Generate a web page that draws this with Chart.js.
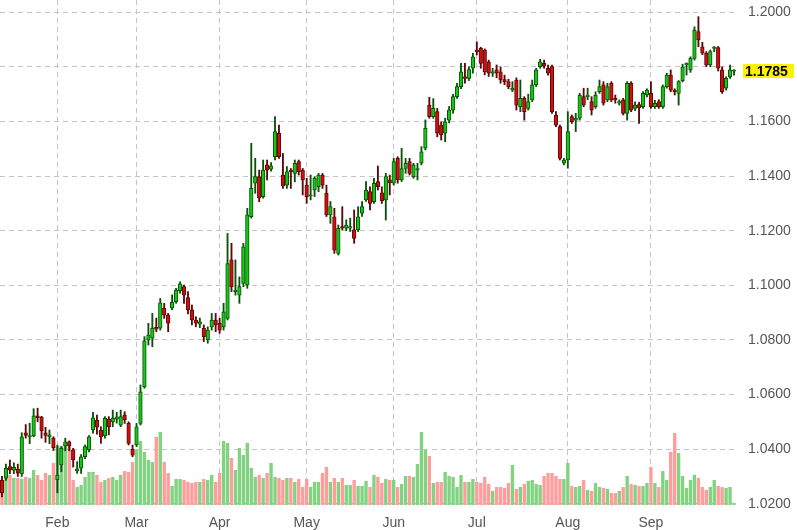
<!DOCTYPE html>
<html>
<head>
<meta charset="utf-8">
<script src="https://cdn.jsdelivr.net/npm/chart.js@4.4.1/dist/chart.umd.min.js"></script>
<style>
  html, body { margin: 0; padding: 0; background: #fff; }
</style>
</head>
<body>
<canvas id="chart" width="797" height="530"></canvas>
<script>
// Daily candles, weekdays 14 Jan - 30 Sep 2025
const firstDay = '2025-01-14';
const lastDay = '2025-09-30';

const tickDates = ['2025-02-03', '2025-03-03', '2025-04-01', '2025-05-01', '2025-06-02', '2025-07-01', '2025-08-01', '2025-09-01'];
const tickLabels = ['Feb', 'Mar', 'Apr', 'May', 'Jun', 'Jul', 'Aug', 'Sep'];
const priceTicks = [1.02, 1.04, 1.06, 1.08, 1.10, 1.12, 1.14, 1.16, 1.18, 1.20];

const opens = [
  1.0287, 1.0294, 1.0336, 1.0323, 1.0327, 1.0309, 1.0460, 1.0445, 1.0449, 1.0522,
  1.0517, 1.0460, 1.0445, 1.0440, 1.0287, 1.0342, 1.0412, 1.0427, 1.0397, 1.0320,
  1.0330, 1.0372, 1.0397, 1.0470, 1.0505, 1.0470, 1.0448, 1.0509, 1.0500, 1.0510,
  1.0488, 1.0525, 1.0494, 1.0399, 1.0415, 1.0494, 1.0628, 1.0800, 1.0806, 1.0846,
  1.0843, 1.0916, 1.0891, 1.0916, 1.0940, 1.0980, 1.0995, 1.0955, 1.0910, 1.0873,
  1.0858, 1.0842, 1.0800, 1.0848, 1.0873, 1.0861, 1.0848, 1.0879, 1.1093, 1.0977,
  1.0964, 1.1007, 1.1001, 1.1251, 1.1374, 1.1398, 1.1325, 1.1441, 1.1425, 1.1471,
  1.1557, 1.1404, 1.1367, 1.1422, 1.1410, 1.1453, 1.1422, 1.1367, 1.1327, 1.1349,
  1.1361, 1.1404, 1.1337, 1.1258, 1.1251, 1.1117, 1.1215, 1.1209, 1.1209, 1.1203,
  1.1203, 1.1264, 1.1313, 1.1343, 1.1306, 1.1380, 1.1339, 1.1313, 1.1386, 1.1374,
  1.1465, 1.1386, 1.1428, 1.1453, 1.1398, 1.1422, 1.1447, 1.1502, 1.1660, 1.1618,
  1.1636, 1.1587, 1.1557, 1.1605, 1.1642, 1.1691, 1.1728, 1.1764, 1.1758, 1.1795,
  1.1862, 1.1868, 1.1862, 1.1819, 1.1777, 1.1789, 1.1782, 1.1754, 1.1746, 1.1715,
  1.1752, 1.1654, 1.1685, 1.1648, 1.1679, 1.1734, 1.1801, 1.1813, 1.1795, 1.1801,
  1.1624, 1.1581, 1.1447, 1.1459, 1.1618, 1.1605, 1.1612, 1.1691, 1.1691, 1.1673,
  1.1654, 1.1709, 1.1734, 1.1679, 1.1740, 1.1685, 1.1667, 1.1679, 1.1630, 1.1740,
  1.1648, 1.1662, 1.1654, 1.1697, 1.1703, 1.1654, 1.1673, 1.1654, 1.1728, 1.1770,
  1.1715, 1.1703, 1.1750, 1.1807, 1.1789, 1.1831, 1.1929, 1.1874, 1.1850, 1.1807,
  1.1868, 1.1871, 1.1789, 1.1722, 1.1764, 1.1784
];
const highs = [
  1.0300, 1.0345, 1.0360, 1.0350, 1.0345, 1.0460, 1.0490, 1.0495, 1.0548, 1.0550,
  1.0520, 1.0480, 1.0470, 1.0445, 1.0415, 1.0409, 1.0440, 1.0430, 1.0403, 1.0354,
  1.0380, 1.0415, 1.0450, 1.0535, 1.0525, 1.0482, 1.0519, 1.0519, 1.0543, 1.0535,
  1.0543, 1.0537, 1.0500, 1.0415, 1.0494, 1.0635, 1.0812, 1.0861, 1.0897, 1.0880,
  1.0952, 1.0934, 1.0897, 1.0965, 1.0989, 1.1013, 1.1001, 1.0977, 1.0928, 1.0885,
  1.0880, 1.0855, 1.0848, 1.0897, 1.0897, 1.0879, 1.0934, 1.1190, 1.1154, 1.1093,
  1.1031, 1.1154, 1.1282, 1.1520, 1.1465, 1.1422, 1.1459, 1.1459, 1.1450, 1.1618,
  1.1587, 1.1483, 1.1435, 1.1428, 1.1459, 1.1459, 1.1428, 1.1392, 1.1404, 1.1398,
  1.1410, 1.1410, 1.1367, 1.1307, 1.1282, 1.1221, 1.1288, 1.1240, 1.1246, 1.1276,
  1.1288, 1.1307, 1.1380, 1.1361, 1.1392, 1.1437, 1.1361, 1.1410, 1.1404, 1.1465,
  1.1471, 1.1502, 1.1465, 1.1465, 1.1447, 1.1447, 1.1508, 1.1606, 1.1689, 1.1684,
  1.1648, 1.1599, 1.1612, 1.1655, 1.1700, 1.1740, 1.1813, 1.1813, 1.1800, 1.1850,
  1.1892, 1.1872, 1.1866, 1.1825, 1.1795, 1.1807, 1.1800, 1.1770, 1.1755, 1.1746,
  1.1760, 1.1752, 1.1691, 1.1700, 1.1752, 1.1795, 1.1828, 1.1825, 1.1807, 1.1807,
  1.1636, 1.1587, 1.1465, 1.1636, 1.1624, 1.1630, 1.1703, 1.1722, 1.1722, 1.1691,
  1.1709, 1.1752, 1.1746, 1.1740, 1.1746, 1.1697, 1.1679, 1.1685, 1.1746, 1.1746,
  1.1672, 1.1670, 1.1710, 1.1720, 1.1746, 1.1678, 1.1680, 1.1734, 1.1777, 1.1789,
  1.1720, 1.1750, 1.1810, 1.1815, 1.1837, 1.1947, 1.1984, 1.1890, 1.1856, 1.1862,
  1.1875, 1.1875, 1.1800, 1.1764, 1.1807, 1.1790
];
const lows = [
  1.0225, 1.0285, 1.0310, 1.0310, 1.0300, 1.0300, 1.0440, 1.0420, 1.0445, 1.0500,
  1.0440, 1.0425, 1.0420, 1.0395, 1.0240, 1.0317, 1.0394, 1.0394, 1.0334, 1.0311,
  1.0311, 1.0365, 1.0390, 1.0458, 1.0455, 1.0421, 1.0440, 1.0452, 1.0482, 1.0495,
  1.0482, 1.0494, 1.0415, 1.0372, 1.0409, 1.0488, 1.0623, 1.0781, 1.0775, 1.0830,
  1.0836, 1.0879, 1.0830, 1.0910, 1.0934, 1.0971, 1.0934, 1.0895, 1.0855, 1.0848,
  1.0845, 1.0794, 1.0788, 1.0836, 1.0830, 1.0824, 1.0836, 1.0873, 1.0977, 1.0964,
  1.0934, 1.0995, 1.0989, 1.1246, 1.1337, 1.1306, 1.1319, 1.1386, 1.1418, 1.1459,
  1.1465, 1.1355, 1.1355, 1.1355, 1.1379, 1.1404, 1.1331, 1.1300, 1.1313, 1.1325,
  1.1343, 1.1355, 1.1252, 1.1227, 1.1117, 1.1111, 1.1203, 1.1200, 1.1197, 1.1154,
  1.1197, 1.1252, 1.1307, 1.1276, 1.1300, 1.1349, 1.1300, 1.1239, 1.1331, 1.1367,
  1.1374, 1.1380, 1.1410, 1.1404, 1.1392, 1.1386, 1.1441, 1.1496, 1.1612, 1.1612,
  1.1544, 1.1532, 1.1526, 1.1595, 1.1630, 1.1685, 1.1720, 1.1740, 1.1750, 1.1777,
  1.1844, 1.1795, 1.1771, 1.1765, 1.1765, 1.1760, 1.1740, 1.1735, 1.1720, 1.1710,
  1.1642, 1.1636, 1.1605, 1.1642, 1.1673, 1.1728, 1.1795, 1.1795, 1.1770, 1.1630,
  1.1581, 1.1459, 1.1441, 1.1429, 1.1593, 1.1563, 1.1605, 1.1654, 1.1680, 1.1624,
  1.1648, 1.1703, 1.1660, 1.1673, 1.1673, 1.1667, 1.1660, 1.1624, 1.1605, 1.1636,
  1.1640, 1.1593, 1.1648, 1.1690, 1.1648, 1.1648, 1.1648, 1.1648, 1.1722, 1.1709,
  1.1697, 1.1660, 1.1745, 1.1770, 1.1780, 1.1825, 1.1874, 1.1845, 1.1801, 1.1801,
  1.1856, 1.1785, 1.1703, 1.1715, 1.1758, 1.1770
];
const closes = [
  1.0240, 1.0330, 1.0323, 1.0333, 1.0312, 1.0445, 1.0450, 1.0450, 1.0522, 1.0515,
  1.0467, 1.0450, 1.0452, 1.0405, 1.0305, 1.0403, 1.0427, 1.0412, 1.0360, 1.0328,
  1.0372, 1.0409, 1.0445, 1.0515, 1.0480, 1.0445, 1.0513, 1.0482, 1.0513, 1.0518,
  1.0519, 1.0507, 1.0421, 1.0378, 1.0482, 1.0610, 1.0797, 1.0818, 1.0843, 1.0839,
  1.0936, 1.0891, 1.0861, 1.0938, 1.0983, 1.1005, 1.0964, 1.0910, 1.0873, 1.0861,
  1.0866, 1.0812, 1.0836, 1.0873, 1.0855, 1.0836, 1.0903, 1.1080, 1.0995, 1.0983,
  1.0995, 1.1141, 1.1258, 1.1355, 1.1398, 1.1319, 1.1422, 1.1422, 1.1438, 1.1563,
  1.1471, 1.1364, 1.1416, 1.1416, 1.1447, 1.1416, 1.1386, 1.1325, 1.1331, 1.1392,
  1.1404, 1.1367, 1.1258, 1.1288, 1.1129, 1.1209, 1.1209, 1.1221, 1.1215, 1.1172,
  1.1251, 1.1288, 1.1349, 1.1300, 1.1374, 1.1361, 1.1310, 1.1398, 1.1376, 1.1453,
  1.1386, 1.1428, 1.1447, 1.1410, 1.1441, 1.1428, 1.1489, 1.1575, 1.1618, 1.1648,
  1.1557, 1.1551, 1.1599, 1.1642, 1.1691, 1.1728, 1.1782, 1.1758, 1.1790, 1.1837,
  1.1856, 1.1813, 1.1782, 1.1777, 1.1782, 1.1777, 1.1752, 1.1746, 1.1728, 1.1722,
  1.1660, 1.1685, 1.1636, 1.1673, 1.1734, 1.1789, 1.1819, 1.1803, 1.1777, 1.1636,
  1.1587, 1.1465, 1.1459, 1.1563, 1.1599, 1.1612, 1.1697, 1.1660, 1.1697, 1.1642,
  1.1697, 1.1728, 1.1667, 1.1728, 1.1679, 1.1679, 1.1673, 1.1630, 1.1740, 1.1642,
  1.1660, 1.1650, 1.1703, 1.1715, 1.1654, 1.1667, 1.1654, 1.1728, 1.1770, 1.1715,
  1.1709, 1.1746, 1.1800, 1.1813, 1.1831, 1.1935, 1.1899, 1.1850, 1.1807, 1.1856,
  1.1872, 1.1795, 1.1709, 1.1758, 1.1789, 1.1785
];
// volume, thousand contracts (relative)
const volumes = [
  23, 27, 30, 27, 27, 26, 28, 27, 35, 30,
  25, 32, 30, 42, 59, 59, 62, 62, 25, 18,
  20, 28, 33, 33, 30, 23, 25, 27, 28, 25,
  30, 34, 33, 43, 55, 64, 53, 45, 43, 68,
  73, 43, 32, 19, 26, 26, 25, 23, 22, 23,
  23, 26, 25, 30, 23, 32, 64, 62, 47, 35,
  57, 50, 62, 37, 28, 30, 27, 32, 42, 28,
  27, 25, 27, 27, 23, 26, 18, 26, 18, 23,
  23, 32, 38, 23, 27, 23, 27, 20, 20, 25,
  19, 19, 24, 18, 30, 28, 22, 26, 25, 25,
  18, 21, 29, 29, 28, 41, 73, 55, 49, 22,
  23, 23, 33, 29, 28, 18, 30, 23, 23, 26,
  23, 22, 28, 21, 14, 18, 18, 17, 22, 40,
  16, 18, 21, 24, 25, 21, 20, 29, 32, 32,
  29, 26, 26, 42, 19, 18, 19, 25, 15, 14,
  22, 18, 17, 16, 12, 12, 14, 18, 29, 21,
  20, 19, 19, 22, 38, 22, 18, 34, 25, 53,
  72, 52, 29, 17, 25, 30, 27, 18, 15, 18,
  25, 19, 18, 17, 18, 2
];

// weekday date labels for the category axis
function weekdays(from, to) {
  const out = [];
  const d = new Date(from + 'T00:00:00Z');
  const end = new Date(to + 'T00:00:00Z');
  while (d <= end) {
    const wd = d.getUTCDay();
    if (wd !== 0 && wd !== 6) out.push(d.toISOString().slice(0, 10));
    d.setUTCDate(d.getUTCDate() + 1);
  }
  return out;
}
const dates = weekdays(firstDay, lastDay);
const lastClose = closes[closes.length - 1];

const isUp = closes.map((c, i) => c >= opens[i]);
const bodyFill = isUp.map(u => u ? '#14c814' : '#d20f0f');
const edge = isUp.map(u => u ? '#095209' : '#5c0808');
const volFill = isUp.map(u => u ? '#82d282' : '#ff9d9d');

const FONT = '"Liberation Sans", Arial, sans-serif';
const GRID = '#c4c4c4';

// last price tag on the right axis
const lastPriceTag = {
  id: 'lastPriceTag',
  afterDraw(chart) {
    const { ctx, chartArea, scales } = chart;
    const y = Math.round(scales.y.getPixelForValue(lastClose));
    ctx.save();
    ctx.fillStyle = '#fff200';
    ctx.fillRect(chartArea.right + 7, y - 7, 51, 14);
    ctx.fillStyle = '#000';
    ctx.font = 'bold 14px ' + FONT;
    ctx.textBaseline = 'middle';
    ctx.fillText(lastClose.toFixed(4), chartArea.right + 9, y + 1);
    ctx.restore();
  }
};

new Chart(document.getElementById('chart'), {
  type: 'bar',
  data: {
    labels: dates,
    datasets: [
      {
        data: opens.map((o, i) => [o, closes[i]]),
        yAxisID: 'y',
        backgroundColor: bodyFill,
        borderColor: edge,
        borderWidth: 1,
        borderSkipped: false,
        barThickness: 3.6,
        minBarLength: 1,
        grouped: false,
        order: 0
      },
      {
        data: lows.map((l, i) => [l, highs[i]]),
        yAxisID: 'y',
        backgroundColor: edge,
        borderWidth: 0,
        barThickness: 1.2,
        grouped: false,
        order: 1
      },
      {
        data: volumes,
        yAxisID: 'yv',
        backgroundColor: volFill,
        borderWidth: 0,
        categoryPercentage: 1,
        barPercentage: 0.85,
        grouped: false,
        order: 2
      }
    ]
  },
  options: {
    responsive: false,
    animation: false,
    layout: { padding: 0 },
    plugins: { legend: { display: false }, tooltip: { enabled: false } },
    scales: {
      x: {
        type: 'category',
        offset: true,
        grid: { offset: false, color: GRID, drawTicks: false },
        border: { display: false, dash: [5, 4] },
        ticks: {
          autoSkip: false, maxRotation: 0, padding: 10, color: '#555',
          font: { size: 14, family: FONT },
          callback: (v, i) => tickLabels[i]
        },
        afterBuildTicks: s => { s.ticks = tickDates.map(d => ({ value: dates.indexOf(d) })); },
        afterFit: s => { s.height = 25; s.paddingLeft = 0; s.paddingRight = 0; }
      },
      y: {
        position: 'right',
        min: 1.01953,
        max: 1.20451,
        grid: { color: GRID, drawTicks: false },
        border: { display: false, dash: [5, 4] },
        ticks: {
          padding: 12, color: '#555',
          font: { size: 14, family: FONT },
          // the price tag hides the tick label it sits on
          callback: v => Math.abs(v - lastClose) < 0.004 ? '' : v.toFixed(4)
        },
        afterBuildTicks: s => { s.ticks = priceTicks.map(v => ({ value: v })); },
        afterFit: s => { s.width = 61; s.paddingTop = 0; s.paddingBottom = 0; }
      },
      yv: { display: false, min: 0, max: 505 }
    }
  },
  plugins: [lastPriceTag]
});
</script>
</body>
</html>
